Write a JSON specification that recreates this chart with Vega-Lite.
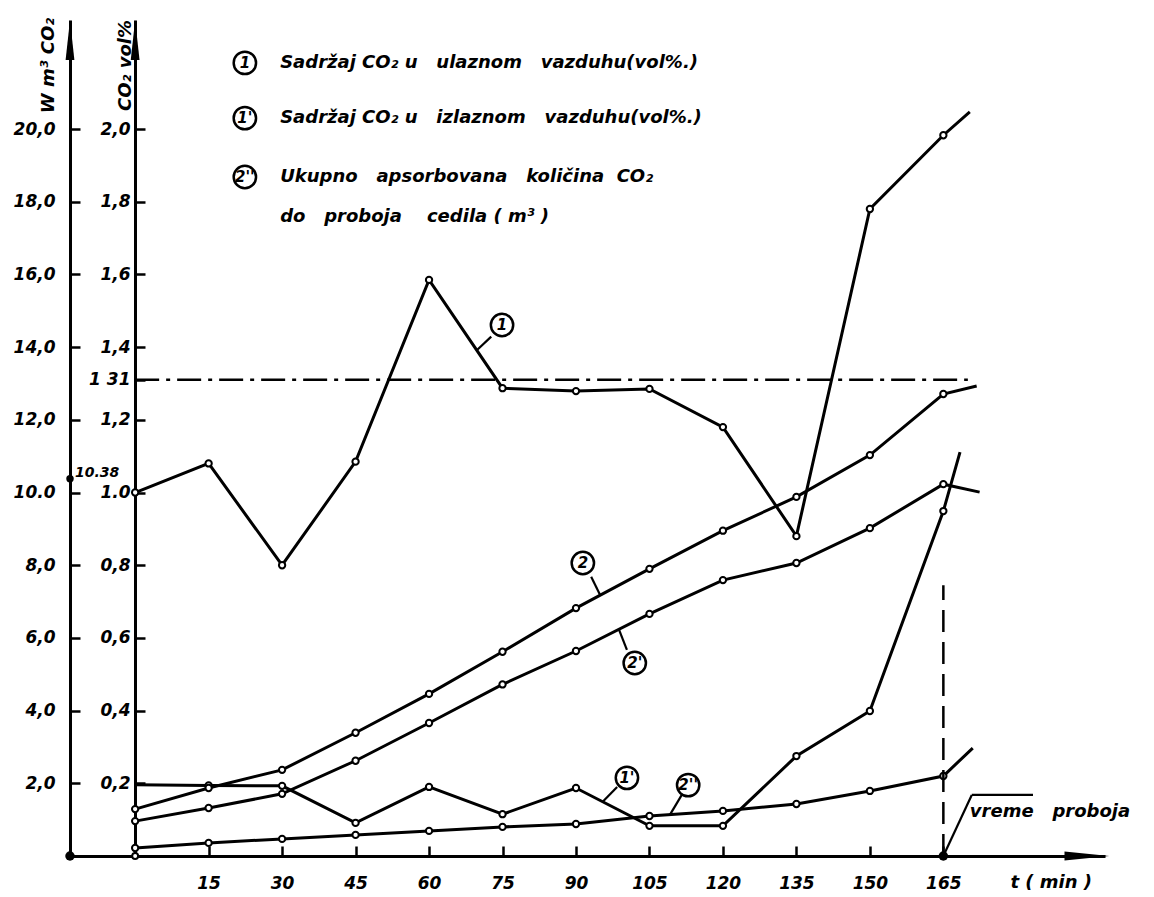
{
  "$schema": "https://vega.github.io/schema/vega-lite/v6.json",
  "width": 1035,
  "height": 836,
  "autosize": {"type": "none"},
  "padding": {"left": 70, "top": 20, "right": 49, "bottom": 41},
  "background": "white",
  "config": {
    "view": {"stroke": null},
    "axis": {
      "grid": false, "domainColor": "black", "domainWidth": 3,
      "tickColor": "black", "tickWidth": 2.5, "tickSize": -10,
      "labelColor": "black", "labelFont": "DejaVu Sans", "labelFontWeight": "bold",
      "labelFontStyle": "italic", "labelFontSize": 17, "labelOverlap": false,
      "labelBound": false, "labelFlush": false,
      "titleFont": "DejaVu Sans", "titleFontWeight": "bold", "titleFontStyle": "italic",
      "titleFontSize": 18, "titleColor": "black"
    }
  },
  "datasets": {
    "series": [
      {"s": "1", "t": 0, "v": 1.0, "marker": true},
      {"s": "1", "t": 15, "v": 1.08, "marker": true},
      {"s": "1", "t": 30, "v": 0.8, "marker": true},
      {"s": "1", "t": 45, "v": 1.085, "marker": true},
      {"s": "1", "t": 60, "v": 1.585, "marker": true},
      {"s": "1", "t": 75, "v": 1.287, "marker": true},
      {"s": "1", "t": 90, "v": 1.279, "marker": true},
      {"s": "1", "t": 105, "v": 1.285, "marker": true},
      {"s": "1", "t": 120, "v": 1.18, "marker": true},
      {"s": "1", "t": 135, "v": 0.88, "marker": true},
      {"s": "1", "t": 150, "v": 1.78, "marker": true},
      {"s": "1", "t": 165, "v": 1.983, "marker": true},
      {"s": "1", "t": 170.4, "v": 2.047, "marker": false},
      {"s": "1'", "t": 0, "v": 0.196, "marker": false},
      {"s": "1'", "t": 15, "v": 0.194, "marker": true},
      {"s": "1'", "t": 30, "v": 0.193, "marker": true},
      {"s": "1'", "t": 45, "v": 0.091, "marker": true},
      {"s": "1'", "t": 60, "v": 0.19, "marker": true},
      {"s": "1'", "t": 75, "v": 0.115, "marker": true},
      {"s": "1'", "t": 90, "v": 0.187, "marker": true},
      {"s": "1'", "t": 105, "v": 0.083, "marker": true},
      {"s": "1'", "t": 120, "v": 0.083, "marker": true},
      {"s": "1'", "t": 135, "v": 0.275, "marker": true},
      {"s": "1'", "t": 150, "v": 0.399, "marker": true},
      {"s": "1'", "t": 165, "v": 0.949, "marker": true},
      {"s": "1'", "t": 168.4, "v": 1.111, "marker": false},
      {"s": "2", "t": 0, "v": 0.129, "marker": true},
      {"s": "2", "t": 15, "v": 0.187, "marker": true},
      {"s": "2", "t": 30, "v": 0.237, "marker": true},
      {"s": "2", "t": 45, "v": 0.339, "marker": true},
      {"s": "2", "t": 60, "v": 0.446, "marker": true},
      {"s": "2", "t": 75, "v": 0.562, "marker": true},
      {"s": "2", "t": 90, "v": 0.682, "marker": true},
      {"s": "2", "t": 105, "v": 0.79, "marker": true},
      {"s": "2", "t": 120, "v": 0.895, "marker": true},
      {"s": "2", "t": 135, "v": 0.988, "marker": true},
      {"s": "2", "t": 150, "v": 1.103, "marker": true},
      {"s": "2", "t": 165, "v": 1.271, "marker": true},
      {"s": "2", "t": 171.8, "v": 1.293, "marker": false},
      {"s": "2'", "t": 0, "v": 0.096, "marker": true},
      {"s": "2'", "t": 15, "v": 0.132, "marker": true},
      {"s": "2'", "t": 30, "v": 0.171, "marker": true},
      {"s": "2'", "t": 45, "v": 0.262, "marker": true},
      {"s": "2'", "t": 60, "v": 0.366, "marker": true},
      {"s": "2'", "t": 75, "v": 0.472, "marker": true},
      {"s": "2'", "t": 90, "v": 0.564, "marker": true},
      {"s": "2'", "t": 105, "v": 0.666, "marker": true},
      {"s": "2'", "t": 120, "v": 0.759, "marker": true},
      {"s": "2'", "t": 135, "v": 0.806, "marker": true},
      {"s": "2'", "t": 150, "v": 0.902, "marker": true},
      {"s": "2'", "t": 165, "v": 1.023, "marker": true},
      {"s": "2'", "t": 172.4, "v": 1.001, "marker": false},
      {"s": "2''", "t": 0, "v": 0.022, "marker": true},
      {"s": "2''", "t": 15, "v": 0.036, "marker": true},
      {"s": "2''", "t": 30, "v": 0.047, "marker": true},
      {"s": "2''", "t": 45, "v": 0.058, "marker": true},
      {"s": "2''", "t": 60, "v": 0.069, "marker": true},
      {"s": "2''", "t": 75, "v": 0.08, "marker": true},
      {"s": "2''", "t": 90, "v": 0.088, "marker": true},
      {"s": "2''", "t": 105, "v": 0.11, "marker": true},
      {"s": "2''", "t": 120, "v": 0.124, "marker": true},
      {"s": "2''", "t": 135, "v": 0.143, "marker": true},
      {"s": "2''", "t": 150, "v": 0.179, "marker": true},
      {"s": "2''", "t": 165, "v": 0.22, "marker": true},
      {"s": "2''", "t": 171, "v": 0.297, "marker": false}
    ],
    "tags": [
      {"lbl": "1", "t": 74.9, "v": 1.461},
      {"lbl": "2", "t": 91.4, "v": 0.806},
      {"lbl": "2'", "t": 102.0, "v": 0.531},
      {"lbl": "1'", "t": 100.4, "v": 0.215},
      {"lbl": "2''", "t": 112.9, "v": 0.195},
      {"lbl": "1", "t": 22.4, "v": 2.182},
      {"lbl": "1'", "t": 22.4, "v": 2.03},
      {"lbl": "2''", "t": 22.4, "v": 1.868}
    ],
    "leaders": [
      {"t": 72.7, "v": 1.429, "t2": 69.8, "v2": 1.392},
      {"t": 93.1, "v": 0.768, "t2": 94.9, "v2": 0.719},
      {"t": 100.4, "v": 0.567, "t2": 98.8, "v2": 0.622},
      {"t": 98.4, "v": 0.19, "t2": 95.5, "v2": 0.15},
      {"t": 111.6, "v": 0.168, "t2": 109.2, "v2": 0.114},
      {"t": 165, "v": 0, "t2": 170.8, "v2": 0.168},
      {"t": 170.8, "v": 0.168, "t2": 183.3, "v2": 0.168}
    ],
    "notes": [
      {"txt": "Sadržaj CO₂ u\u00a0\u00a0 ulaznom\u00a0\u00a0 vazduhu(vol%.)", "t": 29.6, "v": 2.182},
      {"txt": "Sadržaj CO₂ u\u00a0\u00a0 izlaznom\u00a0\u00a0 vazduhu(vol%.)", "t": 29.6, "v": 2.03},
      {"txt": "Ukupno\u00a0\u00a0 apsorbovana\u00a0\u00a0 količina\u00a0 CO₂", "t": 29.6, "v": 1.868},
      {"txt": "do\u00a0\u00a0 proboja\u00a0\u00a0\u00a0 cedila ( m³ )", "t": 29.6, "v": 1.758}
    ]
  },
  "encoding": {
    "x": {
      "field": "t", "type": "quantitative",
      "scale": {"domain": [-13.3, 198], "nice": false, "zero": false},
      "axis": {
        "values": [15, 30, 45, 60, 75, 90, 105, 120, 135, 150, 165],
        "format": "d", "labelPadding": 29,
        "title": "t ( min )", "titleX": 940, "titleY": 26,
        "titleAlign": "left", "titleBaseline": "middle", "titleAngle": 0
      }
    }
  },
  "layer": [
    {
      "encoding": {
        "y": {
          "field": "v", "type": "quantitative",
          "scale": {"domain": [0, 2.3], "nice": false, "zero": false},
          "axis": {
            "orient": "left", "offset": -65,
            "values": [0.2, 0.4, 0.6, 0.8, 1.0, 1.2, 1.31, 1.4, 1.6, 1.8, 2.0],
            "labelPadding": 15,
            "labelExpr": "datum.value == 1.31 ? '1 31' : (datum.value == 1 ? '1.0' : replace(format(datum.value, '.1f'), '.', ','))",
            "title": "CO₂ vol%", "titleX": -10, "titleY": 45, "titleAngle": -90,
            "titleAlign": "center", "titleBaseline": "middle"
          }
        }
      },
      "layer": [
        {
          "data": {"name": "series"},
          "mark": {"type": "line", "color": "black", "strokeWidth": 3},
          "encoding": {"detail": {"field": "s"}}
        },
        {
          "data": {"name": "series"},
          "transform": [{"filter": "datum.marker"}],
          "mark": {"type": "point", "shape": "circle", "filled": true, "fill": "white", "stroke": "black", "strokeWidth": 2, "size": 40, "opacity": 1},
          "encoding": {"detail": {"field": "s"}}
        },
        {
          "data": {"values": [{"t": 0, "t2": 170, "v": 1.31}]},
          "mark": {"type": "rule", "color": "black", "strokeWidth": 2.5, "strokeDash": [24, 7, 4, 7]},
          "encoding": {"x2": {"field": "t2"}}
        },
        {
          "data": {"values": [{"t": 165, "v": 0, "v2": 0.745}]},
          "mark": {"type": "rule", "color": "black", "strokeWidth": 2.5, "strokeDash": [22, 10]},
          "encoding": {"y2": {"field": "v2"}}
        },
        {
          "data": {"name": "leaders"},
          "mark": {"type": "rule", "color": "black", "strokeWidth": 2.2},
          "encoding": {"x2": {"field": "t2"}, "y2": {"field": "v2"}}
        },
        {
          "data": {"name": "tags"},
          "mark": {"type": "point", "shape": "circle", "size": 500, "filled": true, "fill": "white", "stroke": "black", "strokeWidth": 2.5, "opacity": 1}
        },
        {
          "data": {"name": "tags"},
          "mark": {"type": "text", "font": "DejaVu Sans", "fontWeight": "bold", "fontStyle": "italic", "fontSize": 15, "align": "center", "baseline": "middle", "color": "black"},
          "encoding": {"text": {"field": "lbl"}}
        },
        {
          "data": {"name": "notes"},
          "mark": {"type": "text", "font": "DejaVu Sans", "fontWeight": "bold", "fontStyle": "italic", "fontSize": 18, "align": "left", "baseline": "middle", "color": "black"},
          "encoding": {"text": {"field": "txt"}}
        },
        {
          "data": {"values": [{"txt": "vreme\u00a0\u00a0 proboja", "t": 170.4, "v": 0.121}]},
          "mark": {"type": "text", "font": "DejaVu Sans", "fontWeight": "bold", "fontStyle": "italic", "fontSize": 18, "align": "left", "baseline": "middle", "color": "black"},
          "encoding": {"text": {"field": "txt"}}
        },
        {
          "data": {"values": [{"t": -13.3, "v": 0}, {"t": 165, "v": 0}]},
          "mark": {"type": "point", "shape": "circle", "filled": true, "color": "black", "size": 90, "opacity": 1}
        },
        {
          "data": {"values": [{"t": 0, "v": 0}]},
          "mark": {"type": "point", "shape": "circle", "filled": true, "fill": "white", "stroke": "black", "strokeWidth": 2, "size": 35, "opacity": 1}
        },
        {
          "data": {"values": [{"t": -13.3, "v": 2.245}, {"t": 0, "v": 2.245}]},
          "mark": {"type": "point", "shape": "M0,-1L0.22,1L-0.22,1Z", "filled": true, "color": "black", "size": 1600, "opacity": 1}
        },
        {
          "data": {"values": [{"t": 194.3, "v": 0}]},
          "mark": {"type": "point", "shape": "M1,0L-1,-0.2L-1,0.2Z", "filled": true, "color": "black", "size": 2000, "opacity": 1}
        }
      ]
    },
    {
      "data": {"values": [{"t": -13.3, "w": 10.38}]},
      "encoding": {
        "y": {
          "field": "w", "type": "quantitative",
          "scale": {"domain": [0, 23], "nice": false, "zero": false},
          "axis": {
            "orient": "left",
            "values": [2, 4, 6, 8, 10, 12, 14, 16, 18, 20],
            "labelPadding": 25,
            "labelExpr": "datum.value == 10 ? '10.0' : replace(format(datum.value, '.1f'), '.', ',')",
            "title": "W m³ CO₂", "titleX": -22, "titleY": 45, "titleAngle": -90,
            "titleAlign": "center", "titleBaseline": "middle"
          }
        }
      },
      "layer": [
        {"mark": {"type": "point", "shape": "circle", "filled": true, "color": "black", "size": 55, "opacity": 1}},
        {
          "mark": {"type": "text", "font": "DejaVu Sans", "fontWeight": "bold", "fontStyle": "italic", "fontSize": 14, "align": "left", "baseline": "bottom", "dx": 5, "dy": 1, "color": "black"},
          "encoding": {"text": {"value": "10.38"}}
        }
      ]
    }
  ],
  "resolve": {"scale": {"y": "independent"}, "axis": {"y": "independent"}}
}
